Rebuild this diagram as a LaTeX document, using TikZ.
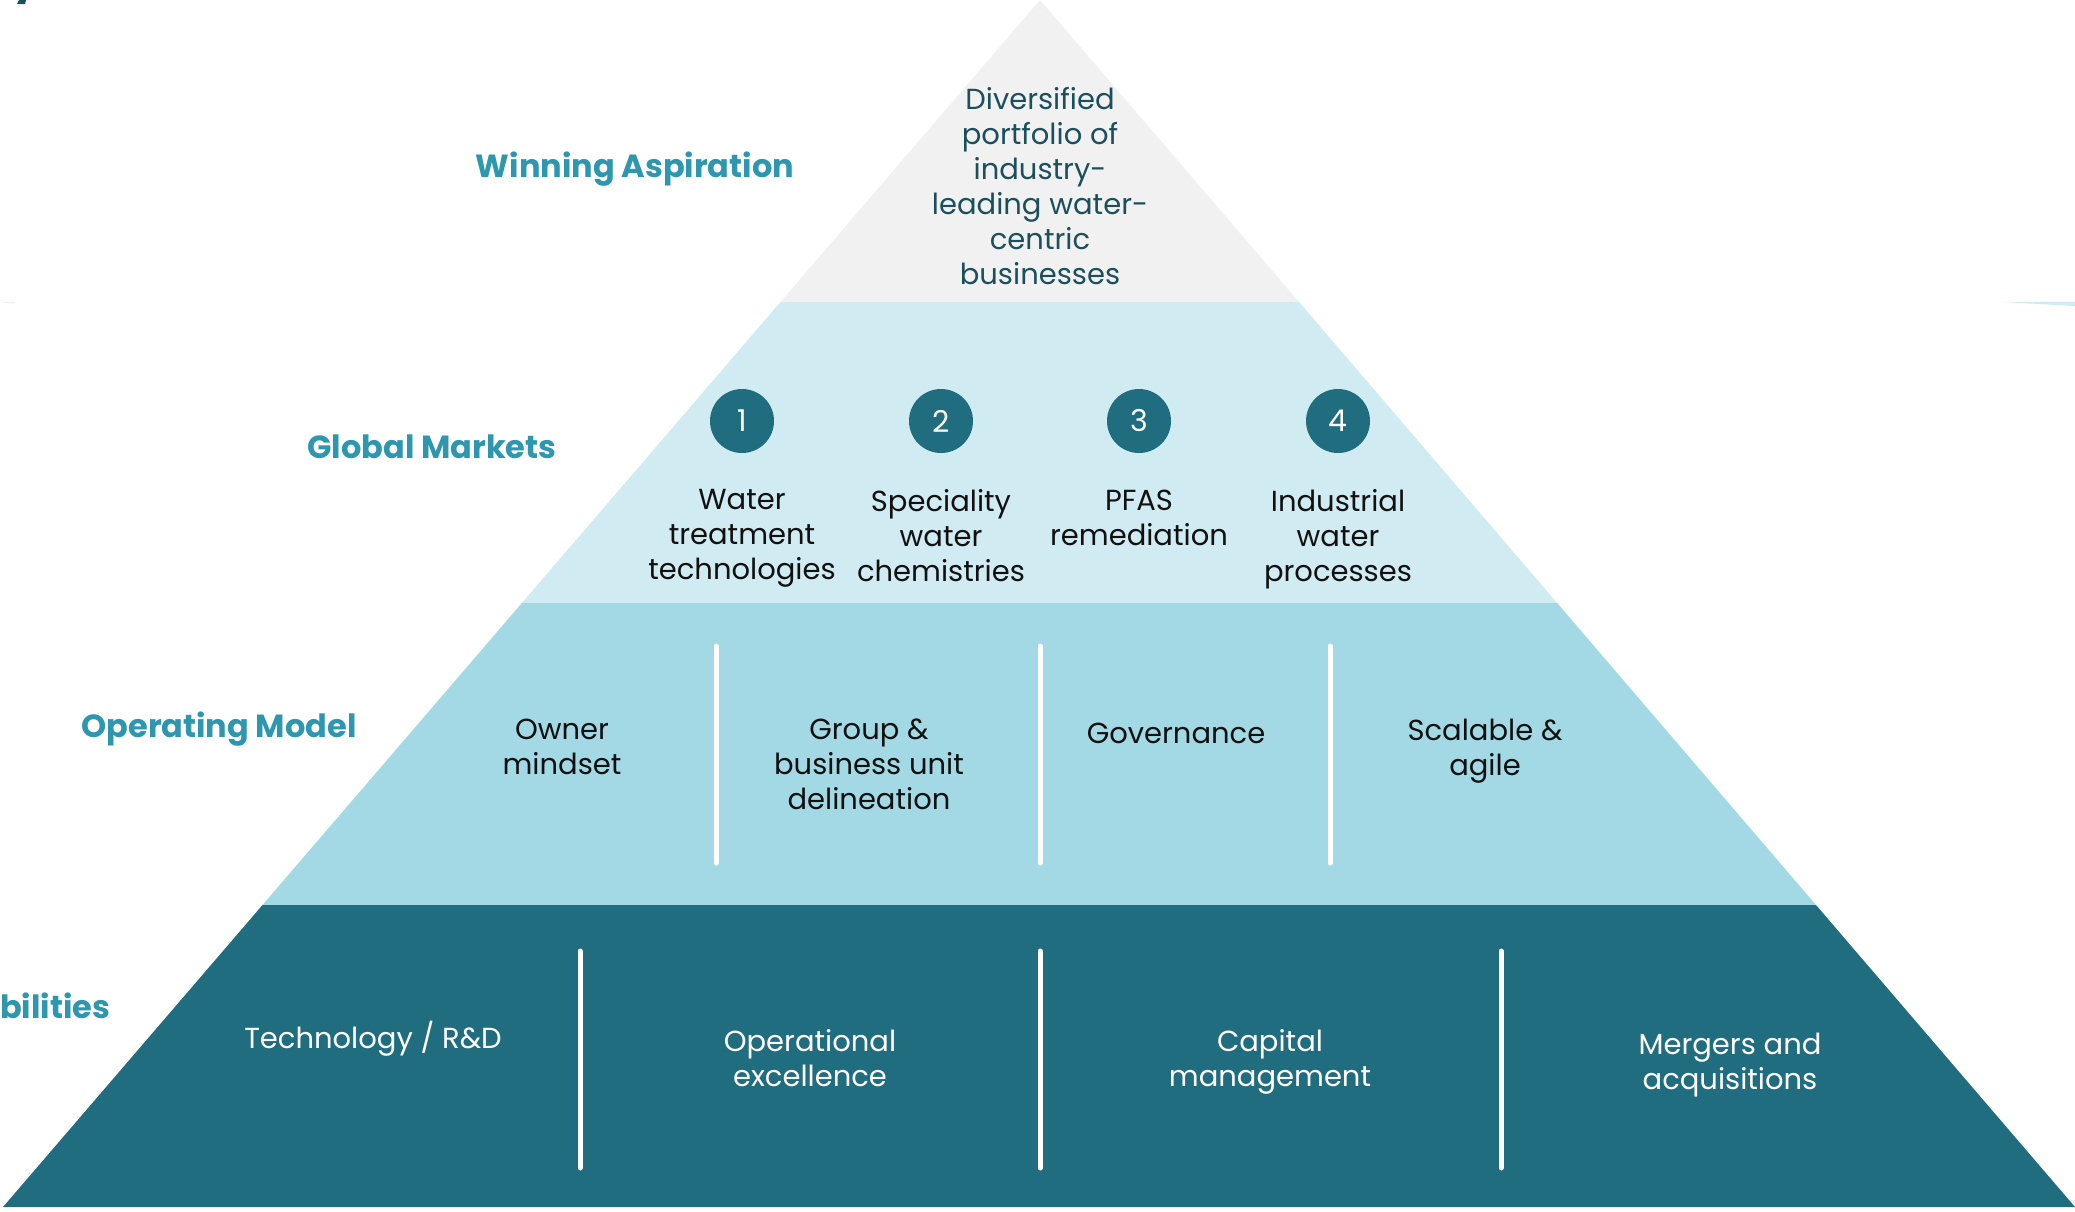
\documentclass[tikz,border=0pt]{standalone}
\usepackage{fontspec}
\setmainfont{Poppins}
\definecolor{tiergray}{HTML}{F1F1F1}
\definecolor{tierpale}{HTML}{D0EBF2}
\definecolor{tiermid}{HTML}{A3D9E5}
\definecolor{tierdark}{HTML}{216D80}
\definecolor{headteal}{HTML}{2E97B0}
\definecolor{topink}{HTML}{1B4F5C}
\definecolor{bodyink}{HTML}{111111}
\begin{document}
\begin{tikzpicture}[x=1pt,y=-1pt,
  heading/.style={font=\fontsize{32}{38}\selectfont\bfseries, text=headteal, inner sep=0pt},
  body/.style={font=\fontsize{29}{35}\selectfont, text=bodyink, align=center,
    inner sep=0pt, anchor=north, execute at begin node=\strut},
  topbody/.style={body, text=topink},
  lightbody/.style={body, text=white},
  badge/.style={circle, fill=tierdark, minimum size=64pt, inner sep=0pt,
    text=white, font=\fontsize{30}{36}\selectfont},
  divider/.style={draw=white, line width=5pt, line cap=round}]
\useasboundingbox (0,0) rectangle (2075,1211);
\fill[white] (0,0) rectangle (2075,1211);

% pyramid tiers
\fill[tiergray] (1040,0) -- (1299,302) -- (780.5,302) -- cycle;
\fill[tierpale] (780.5,302) -- (1299,302) -- (1557.1,603) -- (521.9,603) -- cycle;
\fill[tiermid]  (521.9,603) -- (1557.1,603) -- (1816,905) -- (262.5,905) -- cycle;
\fill[tierdark] (262.5,905) -- (1816,905) -- (2075,1207) -- (3,1207) -- cycle;

% edge fragments
\fill[tierpale] (2003,302) -- (2075,301.5) -- (2075,306) -- cycle;
\fill[tierpale!60] (3,301.5) rectangle (15,303);
\fill[topink] (17,4) -- (19,0) -- (26,0) -- (25,4) -- cycle;

% tier headings
\node[heading] (hwin) at (635,169) {Winning Aspiration};
\node[heading] (hmkt) at (432,446.5) {Global Markets};
\node[heading] (hop)  at (219,729) {Operating Model};
\node[heading, anchor=west] (hcap) at (0,1005.5) {bilities};

% top tier
\node[topbody] (aspire) at (1040,87.5) {Diversified\\portfolio of\\industry-\\leading water-\\centric\\businesses};

% global markets
\node[badge] (b1) at (742,421)  {1};
\node[badge] (b2) at (941,421)  {2};
\node[badge] (b3) at (1139,421) {3};
\node[badge] (b4) at (1338,421) {4};
\node[body] (m1) at (742,489.5)  {Water\\treatment\\technologies};
\node[body] (m2) at (941,489.5)  {Speciality\\water\\chemistries};
\node[body] (m3) at (1139,489.5) {PFAS\\remediation};
\node[body] (m4) at (1338,489.5) {Industrial\\water\\processes};

% operating model
\coordinate (oa1) at (716,646);  \coordinate (oa2) at (716,863);
\coordinate (ob1) at (1040,646); \coordinate (ob2) at (1040,863);
\coordinate (oc1) at (1330,646); \coordinate (oc2) at (1330,863);
\draw[divider] (oa1) -- (oa2);
\draw[divider] (ob1) -- (ob2);
\draw[divider] (oc1) -- (oc2);
\node[body] (o1) at (562,718.5)  {Owner\\mindset};
\node[body] (o2) at (869,718.5)  {Group \&\\business unit\\delineation};
\node[body] (o3) at (1176,718.5) {Governance};
\node[body] (o4) at (1485,718.5) {Scalable \&\\agile};

% capabilities
\coordinate (ca1) at (580,951);  \coordinate (ca2) at (580,1168);
\coordinate (cb1) at (1040,951); \coordinate (cb2) at (1040,1168);
\coordinate (cc1) at (1501,951); \coordinate (cc2) at (1501,1168);
\draw[divider] (ca1) -- (ca2);
\draw[divider] (cb1) -- (cb2);
\draw[divider] (cc1) -- (cc2);
\node[lightbody] (c1) at (373,1021) {Technology / R\&D};
\node[lightbody] (c2) at (810,1029.5) {Operational\\excellence};
\node[lightbody] (c3) at (1270,1029.5) {Capital\\management};
\node[lightbody] (c4) at (1730,1032.5) {Mergers and\\acquisitions};
\end{tikzpicture}
\end{document}
